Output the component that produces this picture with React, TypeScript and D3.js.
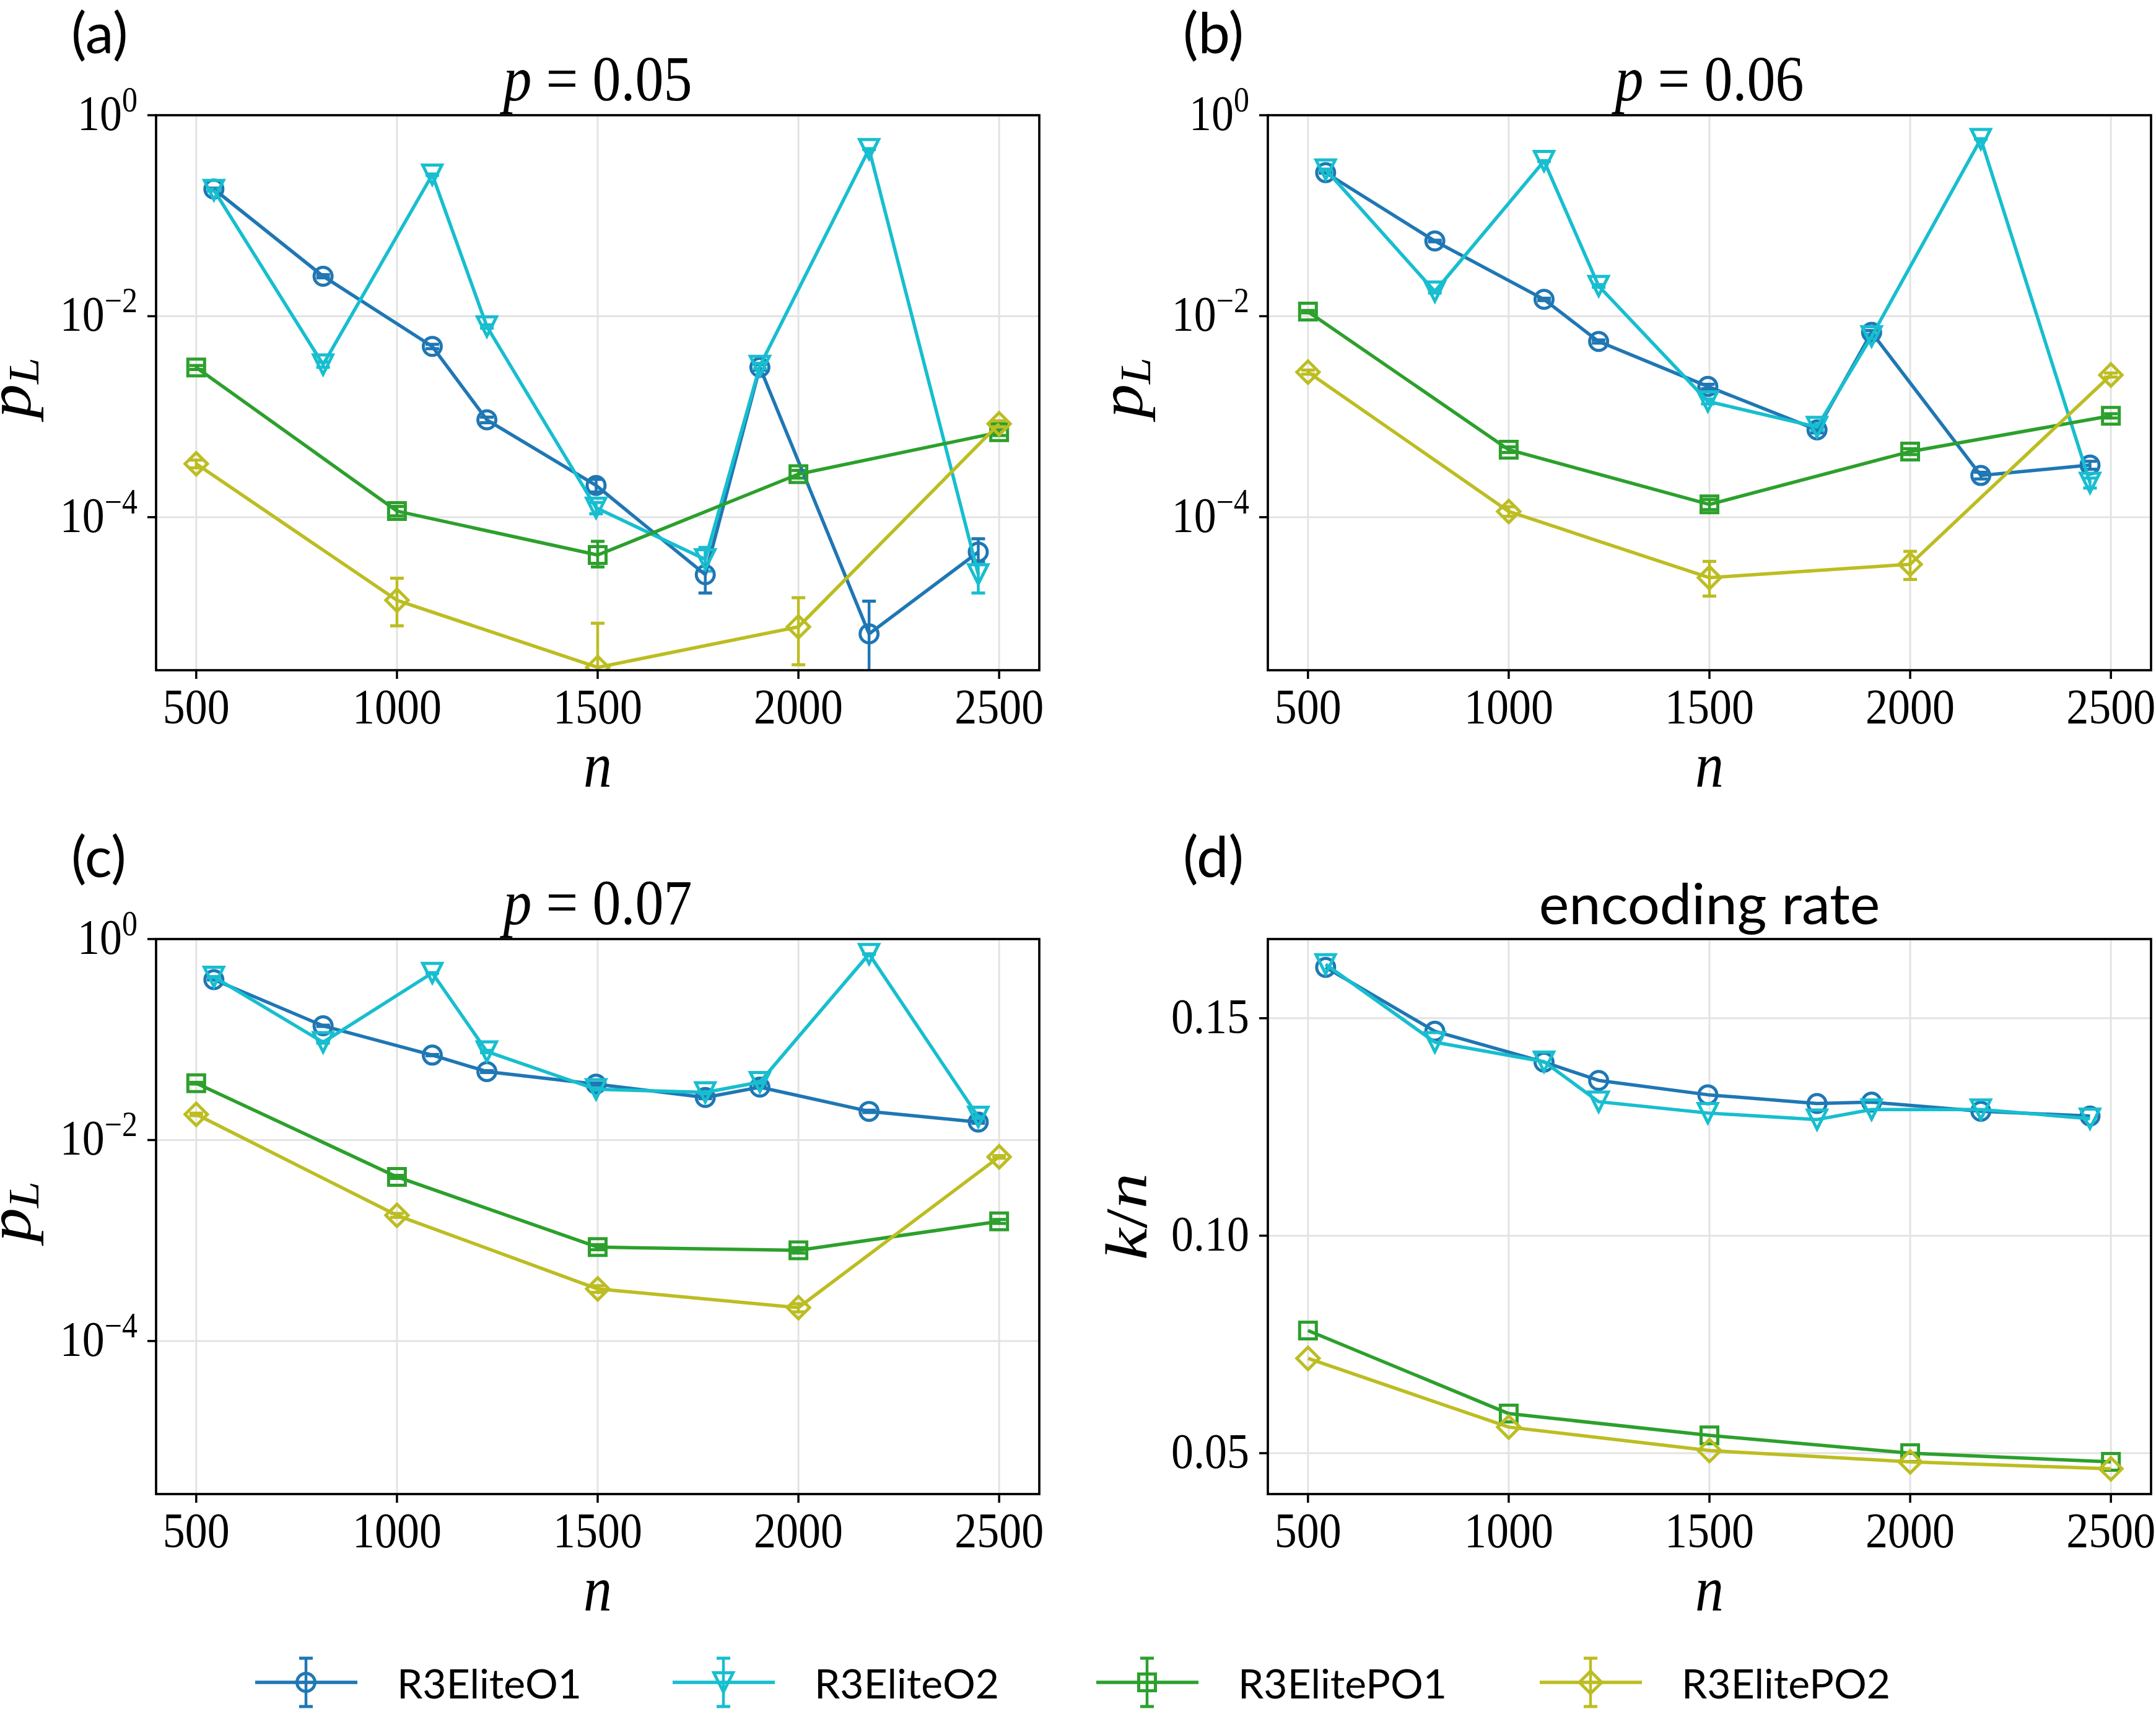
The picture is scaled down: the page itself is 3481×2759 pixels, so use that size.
import React from "react";
import * as d3 from "d3";

// ---------------- data ----------------
const SERIES_NAMES = ["R3EliteO1", "R3EliteO2", "R3ElitePO1", "R3ElitePO2"];
const COLORS = ["#1f77b4", "#17becf", "#2ca02c", "#bcbd22"];
const MARKERS = ["circle", "triangleDown", "square", "diamond"];

const nElite = [544, 816, 1088, 1224, 1496, 1768, 1904, 2176, 2448];
const nEliteP = [500, 1000, 1500, 2000, 2500];

// (a) p = 0.05
const a_O1 = [0.184, 0.025, 0.005, 9.3e-4, 2.07e-4, 2.68e-5, 3.1e-3, 6.9e-6, 4.5e-5];
const a_O1_lo = [0.18, 0.0241, 0.00475, 8.7e-4, 1.78e-4, 1.76e-5, 2.9e-3, 0, 3.6e-5];
const a_O1_hi = [0.188, 0.0259, 0.00525, 9.9e-4, 2.38e-4, 4.9e-5, 3.3e-3, 1.46e-5, 6.1e-5];
const a_O2 = [0.18, 3.3e-3, 0.256, 7.9e-3, 1.24e-4, 3.8e-5, 3.2e-3, 0.46, 2.7e-5];
const a_O2_lo = [0.176, 3.1e-3, 0.252, 7.6e-3, 1.08e-4, 2.9e-5, 3.0e-3, 0.455, 1.76e-5];
const a_O2_hi = [0.184, 3.5e-3, 0.26, 8.2e-3, 1.4e-4, 5.0e-5, 3.4e-3, 0.465, 3.4e-5];
const a_P1 = [3.09e-3, 1.15e-4, 4.2e-5, 2.68e-4, 7.0e-4];
const a_P1_lo = [2.95e-3, 1.03e-4, 3.2e-5, 2.45e-4, 6.5e-4];
const a_P1_hi = [3.23e-3, 1.28e-4, 5.75e-5, 2.92e-4, 7.5e-4];
const a_P2 = [3.4e-4, 1.49e-5, 3.2e-6, 8.1e-6, 8.5e-4];
const a_P2_lo = [3.1e-4, 8.3e-6, 0, 3.4e-6, 7.9e-4];
const a_P2_hi = [3.7e-4, 2.47e-5, 8.8e-6, 1.58e-5, 9.1e-4];

// (b) p = 0.06
const b_O1 = [0.268, 0.056, 0.0147, 5.6e-3, 2.0e-3, 7.4e-4, 6.9e-3, 2.6e-4, 3.3e-4];
const b_O1_lo = [0.265, 0.055, 0.0143, 5.4e-3, 1.9e-3, 6.9e-4, 6.6e-3, 2.4e-4, 3.0e-4];
const b_O1_hi = [0.271, 0.057, 0.0151, 5.8e-3, 2.1e-3, 7.9e-4, 7.2e-3, 2.8e-4, 3.6e-4];
const b_O2 = [0.288, 0.0176, 0.35, 0.02, 1.42e-3, 7.9e-4, 6.3e-3, 0.58, 2.2e-4];
const b_O2_lo = [0.285, 0.017, 0.347, 0.0194, 1.34e-3, 7.4e-4, 6.0e-3, 0.577, 1.95e-4];
const b_O2_hi = [0.291, 0.0182, 0.353, 0.0206, 1.5e-3, 8.4e-4, 6.6e-3, 0.583, 2.45e-4];
const b_P1 = [0.0111, 4.7e-4, 1.34e-4, 4.5e-4, 1.02e-3];
const b_P1_lo = [0.0108, 4.4e-4, 1.19e-4, 4.2e-4, 0.97e-3];
const b_P1_hi = [0.0114, 5.0e-4, 1.5e-4, 4.8e-4, 1.07e-3];
const b_P2 = [2.78e-3, 1.14e-4, 2.5e-5, 3.4e-5, 2.6e-3];
const b_P2_lo = [2.65e-3, 1.02e-4, 1.64e-5, 2.4e-5, 2.48e-3];
const b_P2_hi = [2.91e-3, 1.27e-4, 3.63e-5, 4.57e-5, 2.72e-3];

// (c) p = 0.07
const c_O1 = [0.395, 0.137, 0.07, 0.048, 0.036, 0.0265, 0.0336, 0.0193, 0.0151];
const c_O1_lo = [0.392, 0.135, 0.069, 0.047, 0.035, 0.0258, 0.0328, 0.0188, 0.0147];
const c_O1_hi = [0.398, 0.139, 0.071, 0.049, 0.037, 0.0272, 0.0344, 0.0198, 0.0155];
const c_O2 = [0.42, 0.094, 0.46, 0.076, 0.032, 0.0298, 0.0377, 0.71, 0.017];
const c_O2_lo = [0.417, 0.092, 0.457, 0.074, 0.031, 0.0291, 0.0369, 0.707, 0.0165];
const c_O2_hi = [0.423, 0.096, 0.463, 0.078, 0.033, 0.0305, 0.0385, 0.713, 0.0175];
const c_P1 = [0.0368, 4.3e-3, 8.6e-4, 8.0e-4, 1.55e-3];
const c_P1_lo = [0.0361, 4.15e-3, 8.1e-4, 7.5e-4, 1.48e-3];
const c_P1_hi = [0.0375, 4.45e-3, 9.1e-4, 8.5e-4, 1.62e-3];
const c_P2 = [0.018, 1.78e-3, 3.3e-4, 2.15e-4, 6.8e-3];
const c_P2_lo = [0.0175, 1.7e-3, 3.05e-4, 1.95e-4, 6.6e-3];
const c_P2_hi = [0.0185, 1.86e-3, 3.55e-4, 2.35e-4, 7.0e-3];

// (d) encoding rate k/n
const d_O1 = [0.1617, 0.147, 0.1399, 0.1357, 0.1324, 0.1304, 0.1307, 0.1286, 0.1275];
const d_O2 = [0.1624, 0.1445, 0.14, 0.1308, 0.1282, 0.1267, 0.129, 0.129, 0.1269];
const d_P1 = [0.0782, 0.0591, 0.0541, 0.05, 0.048];
const d_P2 = [0.0718, 0.056, 0.0506, 0.048, 0.0464];

const xTicks = [500, 1000, 1500, 2000, 2500];
const logTicks = [1, 1e-2, 1e-4];
const logTickExps = ["0", "\u22122", "\u22124"];
const rateTicks = [0.05, 0.1, 0.15];
const rateTickLabels = ["0.05", "0.10", "0.15"];
const pTitles = ["0.05", "0.06", "0.07"];

// ---------------- layout ----------------
const FIG_W = 3481;
const FIG_H = 2759;
const AX_W = 1426;
const AX_H = 896;
const SERIF = "Liberation Serif, DejaVu Serif, serif";
const SANS = "Lato, Open Sans, sans-serif";
const SY = 1.12;
const LW = 5.5;
const MEW = 5;

type S = { x: number[]; y: number[]; lo?: number[]; hi?: number[] };

function markerD(kind: string): string {
  if (kind === "circle") {
    const r = 14.5;
    return `M${-r},0A${r},${r} 0 1 0 ${r},0A${r},${r} 0 1 0 ${-r},0Z`;
  }
  if (kind === "triangleDown") {
    const h = 15.5;
    return `M0,${h}L${-h},${-h}L${h},${-h}Z`;
  }
  if (kind === "square") {
    const h = 13.5;
    return `M${-h},${-h}L${h},${-h}L${h},${h}L${-h},${h}Z`;
  }
  const h = 18;
  return `M0,${-h}L${h},0L0,${h}L${-h},0Z`;
}

function SText(props: any) {
  const { x, y, size, anchor = "middle", family = SERIF, sy = SY, rotate = 0, children, italic } = props;
  const tr = rotate ? `translate(${x},${y}) rotate(${rotate}) scale(${sy},1)` : `translate(${x},${y}) scale(1,${sy})`;
  return (
    <g transform={tr}>
      <text x={0} y={0} fontSize={size} fontFamily={family} textAnchor={anchor} fontStyle={italic ? "italic" : "normal"} fill="#000">
        {children}
      </text>
    </g>
  );
}

function Panel(props: any) {
  const { L, T, letter, idx, kind, series, title, yLabelOff } = props;
  const x = d3.scaleLinear().domain([400, 2600]).range([L, L + AX_W]);
  let y: any;
  if (kind === "log") {
    y = d3.scaleLog().domain([3e-6, 1]).range([T + AX_H, T]);
  } else {
    const all = series.flatMap((s: S) => s.y);
    const [mn, mx] = d3.extent(all) as [number, number];
    const pad = (mx - mn) * 0.05;
    y = d3.scaleLinear().domain([mn - pad, mx + pad]).range([T + AX_H, T]);
  }
  const yTicks = kind === "log" ? logTicks : rateTicks;
  const clipId = `clip-${idx}`;
  const line = d3
    .line<[number, number]>()
    .x((d) => x(d[0]))
    .y((d) => y(d[1]));
  const yMinClamp = kind === "log" ? 3e-7 : 0;

  return (
    <g>
      <defs>
        <clipPath id={clipId}>
          <rect x={L} y={T} width={AX_W} height={AX_H} />
        </clipPath>
      </defs>
      {/* grid */}
      {xTicks.map((t) => (
        <line key={"gx" + t} x1={x(t)} x2={x(t)} y1={T} y2={T + AX_H} stroke="#e3e3e3" strokeWidth={3} />
      ))}
      {yTicks.map((t: number) => (
        <line key={"gy" + t} x1={L} x2={L + AX_W} y1={y(t)} y2={y(t)} stroke="#e3e3e3" strokeWidth={3} />
      ))}
      <g clipPath={`url(#${clipId})`}>
        {/* error bars */}
        {series.map((s: S, si: number) =>
          s.lo && s.hi
            ? s.x.map((xv, i) => {
                const lo = Math.max(s.lo![i], yMinClamp);
                const hi = s.hi![i];
                const px = x(xv);
                return (
                  <g key={`e${si}-${i}`} stroke={COLORS[si]} strokeWidth={4.5}>
                    <line x1={px} x2={px} y1={y(lo)} y2={y(hi)} />
                    <line x1={px - 11} x2={px + 11} y1={y(lo)} y2={y(lo)} strokeWidth={5} />
                    <line x1={px - 11} x2={px + 11} y1={y(hi)} y2={y(hi)} strokeWidth={5} />
                  </g>
                );
              })
            : null
        )}
        {/* lines + markers */}
        {series.map((s: S, si: number) => (
          <g key={"s" + si}>
            <path d={line(s.x.map((xv, i) => [xv, s.y[i]]) as any) || ""} fill="none" stroke={COLORS[si]} strokeWidth={LW} strokeLinejoin="round" />
            {s.x.map((xv, i) => (
              <path
                key={i}
                d={markerD(MARKERS[si])}
                transform={`translate(${x(xv)},${y(s.y[i])})`}
                fill="none"
                stroke={COLORS[si]}
                strokeWidth={MEW}
                strokeLinejoin="miter"
              />
            ))}
          </g>
        ))}
      </g>
      {/* frame */}
      <rect x={L} y={T} width={AX_W} height={AX_H} fill="none" stroke="#000" strokeWidth={3.7} />
      {/* x ticks */}
      {xTicks.map((t) => (
        <g key={"xt" + t}>
          <line x1={x(t)} x2={x(t)} y1={T + AX_H} y2={T + AX_H + 14} stroke="#000" strokeWidth={3.5} />
          <SText x={x(t)} y={T + AX_H + 86} size={72}>
            {String(t)}
          </SText>
        </g>
      ))}
      {/* y ticks */}
      {yTicks.map((t: number, i: number) => (
        <g key={"yt" + t}>
          <line x1={L - 14} x2={L} y1={y(t)} y2={y(t)} stroke="#000" strokeWidth={3.5} />
          {kind === "log" ? (
            <SText x={L - 30} y={y(t) + 24} size={72} anchor="end">
              10
              <tspan fontSize={50} dy={-27}>
                {logTickExps[i]}
              </tspan>
            </SText>
          ) : (
            <SText x={L - 30} y={y(t) + 24} size={72} anchor="end">
              {rateTickLabels[i]}
            </SText>
          )}
        </g>
      ))}
      {/* x label */}
      <SText x={L + AX_W / 2} y={T + AX_H + 188} size={92} italic>
        n
      </SText>
      {/* y label */}
      {kind === "log" ? (
        <SText x={L - yLabelOff} y={T + AX_H / 2 - 8} size={100} rotate={-90} sy={1.1}>
          <tspan fontStyle="italic">p</tspan>
          <tspan fontStyle="italic" fontSize={70} dy={13}>
            L
          </tspan>
        </SText>
      ) : (
        <SText x={L - yLabelOff} y={T + AX_H / 2} size={96} rotate={-90} sy={1.2}>
          <tspan fontStyle="italic">k</tspan>
          <tspan>/</tspan>
          <tspan fontStyle="italic">n</tspan>
        </SText>
      )}
      {/* title */}
      {title ? (
        <SText x={L + AX_W / 2} y={T - 24} size={92}>
          <tspan fontStyle="italic">p</tspan>
          <tspan>{" = " + title}</tspan>
        </SText>
      ) : (
        <text x={L + AX_W / 2} y={T - 24} fontSize={92} fontFamily={SANS} textAnchor="middle">
          encoding rate
        </text>
      )}
      {/* panel letter */}
      <text x={L - 137} y={T - 100} fontSize={92} fontFamily={SANS}>
        {letter}
      </text>
    </g>
  );
}

function mk(xs: number[], ys: number[], lo?: number[], hi?: number[]): S {
  return { x: xs, y: ys, lo, hi };
}

const LEGEND_X = [412, 1086, 1770, 2486];

export default function App() {
  const panels = [
    {
      L: 252, T: 186, letter: "(a)", kind: "log", title: pTitles[0], yLabelOff: 203,
      series: [mk(nElite, a_O1, a_O1_lo, a_O1_hi), mk(nElite, a_O2, a_O2_lo, a_O2_hi), mk(nEliteP, a_P1, a_P1_lo, a_P1_hi), mk(nEliteP, a_P2, a_P2_lo, a_P2_hi)],
    },
    {
      L: 2047, T: 186, letter: "(b)", kind: "log", title: pTitles[1], yLabelOff: 203,
      series: [mk(nElite, b_O1, b_O1_lo, b_O1_hi), mk(nElite, b_O2, b_O2_lo, b_O2_hi), mk(nEliteP, b_P1, b_P1_lo, b_P1_hi), mk(nEliteP, b_P2, b_P2_lo, b_P2_hi)],
    },
    {
      L: 252, T: 1516, letter: "(c)", kind: "log", title: pTitles[2], yLabelOff: 203,
      series: [mk(nElite, c_O1, c_O1_lo, c_O1_hi), mk(nElite, c_O2, c_O2_lo, c_O2_hi), mk(nEliteP, c_P1, c_P1_lo, c_P1_hi), mk(nEliteP, c_P2, c_P2_lo, c_P2_hi)],
    },
    {
      L: 2047, T: 1516, letter: "(d)", kind: "lin", title: null, yLabelOff: 196,
      series: [mk(nElite, d_O1), mk(nElite, d_O2), mk(nEliteP, d_P1), mk(nEliteP, d_P2)],
    },
  ];
  const LY = 2716;
  return (
    <svg
      width={FIG_W}
      height={FIG_H}
      viewBox={`0 0 ${FIG_W} ${FIG_H}`}
      style={{ position: "absolute", left: 0, top: 0, background: "#fff" }}
    >
      <rect x={0} y={0} width={FIG_W} height={FIG_H} fill="#fff" />
      {panels.map((p, i) => (
        <Panel key={i} idx={i} {...p} />
      ))}
      {/* legend */}
      {SERIES_NAMES.map((name, i) => {
        const x0 = LEGEND_X[i];
        const cx = x0 + 82;
        return (
          <g key={name}>
            <line x1={cx} x2={cx} y1={LY - 39} y2={LY + 39} stroke={COLORS[i]} strokeWidth={4.5} />
            <line x1={cx - 11} x2={cx + 11} y1={LY - 39} y2={LY - 39} stroke={COLORS[i]} strokeWidth={5} />
            <line x1={cx - 11} x2={cx + 11} y1={LY + 39} y2={LY + 39} stroke={COLORS[i]} strokeWidth={5} />
            <line x1={x0} x2={x0 + 165} y1={LY} y2={LY} stroke={COLORS[i]} strokeWidth={LW} />
            <path d={markerD(MARKERS[i])} transform={`translate(${cx},${LY})`} fill="none" stroke={COLORS[i]} strokeWidth={MEW} />
            <text x={x0 + 229} y={LY + 26} fontSize={66} fontFamily={SANS} fill="#000">
              {name}
            </text>
          </g>
        );
      })}
    </svg>
  );
}
